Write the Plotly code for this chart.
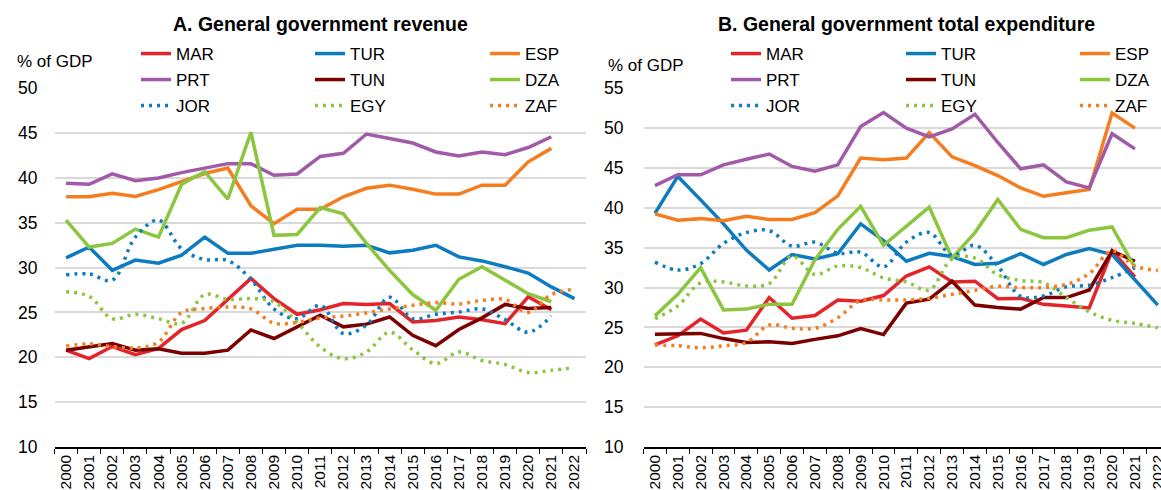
import plotly.graph_objects as go

years = [str(y) for y in range(2000, 2023)]

countries = ["MAR", "TUR", "ESP", "PRT", "TUN", "DZA", "JOR", "EGY", "ZAF"]

# Panel A: General government revenue (% of GDP)
rev_MAR = [20.8, 19.85, 21.2, 20.3, 21.0, 23.1, 24.1, 26.4, 28.8, 26.55, 24.8, 25.3, 26.0, 25.9, 26.0, 23.95, 24.1, 24.5, 24.2, 23.75, 26.75, 25.3, None]
rev_TUR = [31.1, 32.3, 29.7, 30.85, 30.5, 31.4, 33.4, 31.6, 31.6, 32.1, 32.5, 32.5, 32.4, 32.5, 31.65, 31.95, 32.5, 31.2, 30.75, 30.1, 29.4, 27.85, 26.55]
rev_ESP = [37.9, 37.9, 38.3, 37.95, 38.7, 39.6, 40.5, 41.1, 36.9, 34.9, 36.5, 36.5, 37.9, 38.85, 39.2, 38.75, 38.2, 38.2, 39.2, 39.2, 41.8, 43.3, None]
rev_PRT = [39.4, 39.3, 40.45, 39.7, 40.0, 40.6, 41.1, 41.6, 41.6, 40.3, 40.45, 42.4, 42.75, 44.9, 44.4, 43.9, 42.9, 42.45, 42.9, 42.6, 43.4, 44.6, None]
rev_TUN = [20.8, 21.15, 21.55, 20.8, 20.95, 20.45, 20.45, 20.8, 23.05, 22.1, 23.4, 24.7, 23.4, 23.7, 24.5, 22.45, 21.3, 23.1, 24.4, 25.9, 25.45, 25.55, None]
rev_DZA = [35.3, 32.3, 32.7, 34.3, 33.4, 39.3, 40.7, 37.65, 45.1, 33.6, 33.7, 36.7, 36.0, 32.7, 29.7, 27.0, 25.25, 28.7, 30.1, 28.6, 27.1, 26.2, None]
rev_JOR = [29.2, 29.3, 28.6, 33.4, 35.3, 32.1, 30.9, 30.8, 28.7, 25.4, 24.3, 25.8, 22.65, 23.6, 26.7, 24.3, 24.8, 25.05, 25.4, 24.2, 22.8, 24.6, None]
rev_EGY = [27.3, 26.8, 24.3, 24.8, 24.3, 23.8, 27.0, 26.45, 26.55, 26.2, 23.9, 21.15, 19.85, 20.6, 22.8, 20.85, 19.3, 20.6, 19.65, 19.2, 18.3, 18.55, 18.85]
rev_ZAF = [21.25, 21.5, 21.2, 21.05, 21.7, 25.0, 25.45, 25.6, 25.4, 23.8, 23.9, 24.4, 24.6, 24.95, 25.4, 25.8, 26.1, 25.95, 26.35, 26.45, 25.0, 27.0, 27.6]

# Panel B: General government total expenditure (% of GDP)
exp_MAR = [22.8, 23.95, 26.05, 24.3, 24.65, 28.75, 26.15, 26.5, 28.45, 28.3, 29.0, 31.45, 32.6, 30.7, 30.8, 28.6, 28.65, 27.9, 27.7, 27.45, 34.6, 31.35, None]
exp_TUR = [39.3, 43.95, 41.0, 38.0, 34.7, 32.2, 34.15, 33.6, 34.25, 38.0, 35.9, 33.3, 34.3, 33.9, 32.9, 33.05, 34.25, 32.9, 34.15, 34.9, 34.15, 31.05, 27.8]
exp_ESP = [39.25, 38.45, 38.65, 38.4, 38.95, 38.55, 38.55, 39.4, 41.5, 46.25, 46.05, 46.25, 49.45, 46.4, 45.3, 44.05, 42.5, 41.45, 41.9, 42.3, 51.9, 50.0, None]
exp_PRT = [42.8, 44.15, 44.15, 45.4, 46.1, 46.75, 45.2, 44.6, 45.4, 50.2, 51.95, 50.0, 48.9, 49.9, 51.75, 48.2, 44.9, 45.4, 43.25, 42.5, 49.3, 47.4, None]
exp_TUN = [24.15, 24.15, 24.25, 23.6, 23.1, 23.2, 23.0, 23.5, 23.95, 24.85, 24.1, 28.05, 28.55, 30.8, 27.8, 27.5, 27.3, 28.75, 28.75, 29.7, 34.6, 33.3, None]
exp_DZA = [26.45, 29.15, 32.5, 27.2, 27.3, 27.9, 27.9, 33.5, 37.3, 40.2, 35.3, 37.7, 40.1, 33.7, 36.9, 41.05, 37.3, 36.25, 36.25, 37.2, 37.6, 32.5, None]
exp_JOR = [33.2, 32.2, 33.0, 35.55, 36.9, 37.15, 35.2, 35.7, 34.3, 34.45, 32.6, 35.7, 36.9, 34.05, 35.3, 32.7, 28.9, 28.95, 30.1, 30.3, 31.25, 32.5, None]
exp_EGY = [26.1, 27.7, 30.6, 30.7, 30.2, 30.5, 33.95, 31.65, 32.7, 32.5, 31.2, 30.7, 29.7, 33.6, 33.7, 31.6, 30.9, 30.6, 28.75, 26.95, 25.9, 25.5, 24.95]
exp_ZAF = [22.8, 22.7, 22.45, 22.7, 23.1, 25.3, 24.9, 24.9, 26.2, 28.4, 28.45, 28.45, 28.65, 29.15, 29.65, 30.15, 30.0, 30.0, 30.4, 31.75, 34.6, 32.7, 32.15]

revenue = [rev_MAR, rev_TUR, rev_ESP, rev_PRT, rev_TUN, rev_DZA, rev_JOR, rev_EGY, rev_ZAF]
expenditure = [exp_MAR, exp_TUR, exp_ESP, exp_PRT, exp_TUN, exp_DZA, exp_JOR, exp_EGY, exp_ZAF]

colors = ["#E3242B", "#0C7BC0", "#F47D20", "#A05AA8", "#7B0000", "#8CC63F", "#0C7BC0", "#8CC63F", "#F47D20"]
dotted = [False, False, False, False, False, False, True, True, True]

W, H = 1161, 490
FONT = "Liberation Sans, Arial, sans-serif"

fig = go.Figure()

panels = [
    dict(data=revenue, xa="x", ya="y", text_x=[176, 350, 525]),
    dict(data=expenditure, xa="x2", ya="y2", text_x=[766, 941, 1115]),
]
row_y = [54, 80, 106]

leg_idx = 0
layout_legends = {}
for p in panels:
    for k, (name, vals) in enumerate(zip(countries, p["data"])):
        leg_idx += 1
        lname = "legend" if leg_idx == 1 else f"legend{leg_idx}"
        line = dict(color=colors[k], width=3.5)
        if dotted[k]:
            line.update(dash="3px,5px", shape="spline", smoothing=1.0)
        fig.add_trace(go.Scatter(
            x=years, y=vals, name=name, mode="lines", line=line,
            xaxis=p["xa"], yaxis=p["ya"], legend=lname, connectgaps=False,
        ))
        col, row = k % 3, k // 3
        layout_legends[lname] = dict(
            x=(p["text_x"][col] - 40) / W, xanchor="left",
            y=1 - row_y[row] / H, yanchor="middle",
            bgcolor="rgba(0,0,0,0)", borderwidth=0,
            font=dict(family=FONT, size=17, color="#000000"),
            itemwidth=30,
        )

ydom = [1 - 447 / H, 1 - 88.3 / H]
grid = "#D9D9D9"
common_x = dict(
    type="category", showline=True, linecolor="#000000", linewidth=1.5,
    ticks="outside", ticklen=5, tickwidth=1.3, tickcolor="#000000", tickson="boundaries",
    tickangle=-90, tickfont=dict(family=FONT, size=15.5, color="#000000"),
    showgrid=False, zeroline=False, automargin=False,
)
common_y = dict(
    showgrid=True, gridcolor=grid, gridwidth=1.5, zeroline=False, showline=False,
    ticks="", dtick=5, tickfont=dict(family=FONT, size=17.5, color="#000000"),
    automargin=False,
)

fig.update_layout(
    width=W, height=H,
    margin=dict(l=0, r=0, t=0, b=0, autoexpand=False),
    paper_bgcolor="white", plot_bgcolor="white",
    showlegend=True,
    font=dict(family=FONT, size=17, color="#000000"),
    xaxis=dict(common_x, domain=[54.5 / W, 586 / W], range=[-0.5, 22.5], anchor="y"),
    yaxis=dict(common_y, domain=ydom, range=[10, 50], anchor="x", ticklabelstandoff=16),
    xaxis2=dict(common_x, domain=[643.5 / W, 1.0], range=[-0.5, 22.14], anchor="y2"),
    yaxis2=dict(common_y, domain=ydom, range=[10, 55], anchor="x2", ticklabelstandoff=19),
    annotations=[
        dict(text="<b>A. General government revenue</b>", x=320 / W, y=1 - 24 / H,
             xref="paper", yref="paper", xanchor="center", yanchor="middle", showarrow=False,
             font=dict(family=FONT, size=19.5, color="#000000")),
        dict(text="<b>B. General government total expenditure</b>", x=906 / W, y=1 - 24 / H,
             xref="paper", yref="paper", xanchor="center", yanchor="middle", showarrow=False,
             font=dict(family=FONT, size=19.5, color="#000000")),
        dict(text="% of GDP", x=15 / W, y=1 - 61.7 / H, xref="paper", yref="paper",
             xanchor="left", yanchor="middle", showarrow=False,
             font=dict(family=FONT, size=17, color="#000000")),
        dict(text="% of GDP", x=606 / W, y=1 - 65 / H, xref="paper", yref="paper",
             xanchor="left", yanchor="middle", showarrow=False,
             font=dict(family=FONT, size=17, color="#000000")),
    ],
)
fig.update_layout(**layout_legends)

fig.write_html(
    "out.html",
    config={"displayModeBar": False},
    post_script="document.body.style.margin='0';document.body.style.padding='0';document.body.style.overflow='hidden';",
)
